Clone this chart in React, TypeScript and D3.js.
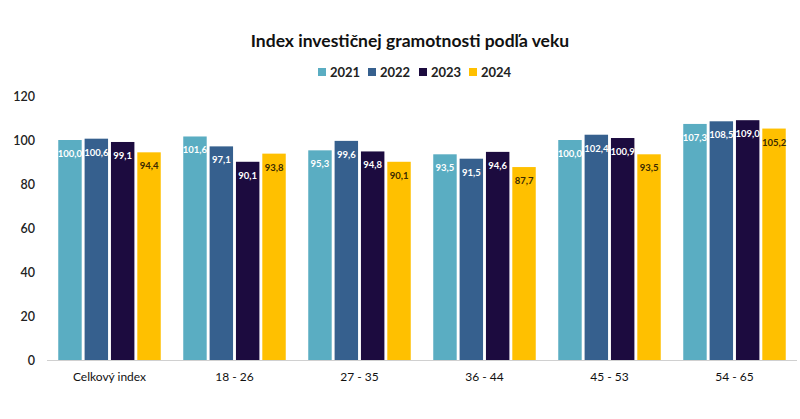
import React from "react";
import * as d3 from "d3";

const categories = ["Celkový index", "18 - 26", "27 - 35", "36 - 44", "45 - 53", "54 - 65"];
const years = ["2021", "2022", "2023", "2024"];
const v2021 = [100.0, 101.6, 95.3, 93.5, 100.0, 107.3];
const v2022 = [100.6, 97.1, 99.6, 91.5, 102.4, 108.5];
const v2023 = [99.1, 90.1, 94.8, 94.6, 100.9, 109.0];
const v2024 = [94.4, 93.8, 90.1, 87.7, 93.5, 105.2];
const yTicks = [0, 20, 40, 60, 80, 100, 120];

const series = [v2021, v2022, v2023, v2024];
const colors = ["#5AADC2", "#36608E", "#1C0B3F", "#FFC000"];
const labelColors = ["#FFFFFF", "#FFFFFF", "#FFFFFF", "#3A2A00"];

export default function App() {
  const W = 800, H = 419;
  const left = 47, right = 797, top = 96, bottom = 360;
  const x0 = d3.scaleBand<string>().domain(categories).range([left, right]).paddingInner(0.18).paddingOuter(0.09);
  const x1 = d3.scaleBand<string>().domain(years).range([0, x0.bandwidth()]).paddingInner(0.11);
  const y = d3.scaleLinear().domain([0, 120]).range([bottom, top]);
  const fmt = (v: number) => v.toFixed(1).replace(".", ",");
  const font = "Lato, 'Open Sans', sans-serif";

  const legendX = [318, 368, 419, 469];

  return (
    <svg width={W} height={H} style={{ position: "absolute", left: 0, top: 0, background: "#fff" }} fontFamily={font}>
      <text x={410} y={47} textAnchor="middle" fontSize={17.5} fontWeight={700} fill="#111">
        Index investičnej gramotnosti podľa veku
      </text>
      {years.map((yr, i) => (
        <g key={yr}>
          <rect x={legendX[i]} y={68} width={8} height={8} fill={colors[i]} />
          <text x={legendX[i] + 12} y={77} fontSize={13} fontWeight={700} fill="#222">{yr}</text>
        </g>
      ))}
      {yTicks.map((t) => (
        <text key={t} x={35} y={y(t) + 4.5} textAnchor="end" fontSize={12.5} fontWeight={600} fill="#222">{t}</text>
      ))}
      <line x1={left} x2={right} y1={bottom + 0.5} y2={bottom + 0.5} stroke="#d0d0d0" strokeWidth={1} />
      {categories.map((c, ci) => (
        <g key={c} transform={`translate(${x0(c)},0)`}>
          {years.map((yr, si) => {
            const v = series[si][ci];
            const bx = x1(yr)!;
            return (
              <g key={yr}>
                <rect x={bx} y={y(v)} width={x1.bandwidth()} height={bottom - y(v)} fill={colors[si]} />
                <text x={bx + x1.bandwidth() / 2} y={y(v) + 17} textAnchor="middle" fontSize={9.5} fontWeight={700} fill={labelColors[si]}>
                  {fmt(v)}
                </text>
              </g>
            );
          })}
          <text x={x0.bandwidth() / 2} y={381} textAnchor="middle" fontSize={12} fill="#111">{c}</text>
        </g>
      ))}
    </svg>
  );
}
